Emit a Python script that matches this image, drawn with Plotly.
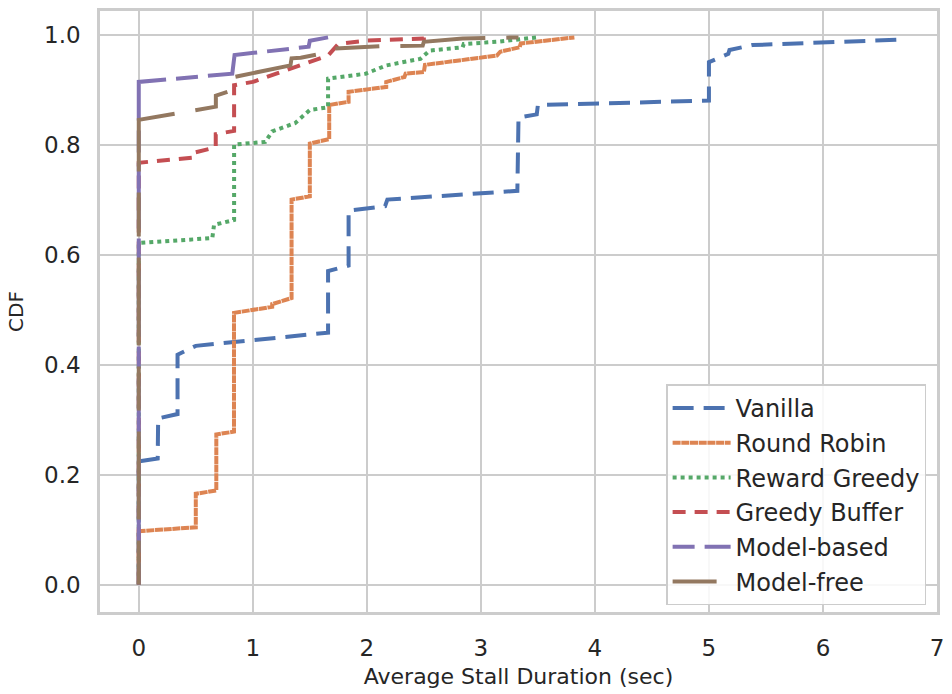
import plotly.graph_objects as go

# ---------------- data ----------------
series_names = ["Vanilla", "Round Robin", "Reward Greedy", "Greedy Buffer", "Model-based", "Model-free"]

vanilla_x = [0, 0, 0.166, 0.17, 0.34, 0.34, 0.50, 1.66, 1.66, 1.84, 1.84, 2.16, 2.18, 3.32, 3.33, 3.49, 3.50, 5.0, 5.0, 5.17, 5.18, 5.38, 6.68]
vanilla_y = [0.0, 0.224, 0.229, 0.302, 0.31, 0.418, 0.434, 0.458, 0.570, 0.580, 0.680, 0.688, 0.700, 0.716, 0.849, 0.855, 0.872, 0.880, 0.950, 0.965, 0.972, 0.981, 0.991]

rr_x = [0, 0, 0.50, 0.50, 0.68, 0.68, 0.835, 0.835, 1.17, 1.17, 1.34, 1.34, 1.50, 1.50, 1.67, 1.67, 1.84, 1.84, 2.17, 2.17, 2.33, 2.34, 2.50, 2.51, 3.14, 3.17, 3.34, 3.35, 3.82]
rr_y = [0.0, 0.097, 0.104, 0.165, 0.171, 0.273, 0.278, 0.494, 0.505, 0.510, 0.521, 0.700, 0.706, 0.802, 0.810, 0.872, 0.878, 0.896, 0.905, 0.914, 0.923, 0.929, 0.932, 0.945, 0.962, 0.969, 0.977, 0.984, 0.995]

rg_x = [0, 0, 0.645, 0.66, 0.836, 0.836, 1.11, 1.17, 1.37, 1.50, 1.66, 1.66, 1.99, 2.17, 2.47, 2.55, 2.84, 2.85, 3.14, 3.49]
rg_y = [0.0, 0.621, 0.630, 0.654, 0.663, 0.800, 0.805, 0.824, 0.839, 0.863, 0.868, 0.920, 0.929, 0.944, 0.956, 0.971, 0.977, 0.983, 0.987, 0.995]

gb_x = [0, 0, 0.50, 0.50, 0.675, 0.675, 0.836, 0.836, 1.0, 1.5, 1.66, 1.75, 1.99, 2.50, 2.50]
gb_y = [0.0, 0.767, 0.777, 0.786, 0.795, 0.819, 0.825, 0.908, 0.914, 0.950, 0.962, 0.983, 0.989, 0.993, 0.999]

mb_x = [0, 0, 0.82, 0.84, 1.49, 1.50, 1.66]
mb_y = [0.0, 0.914, 0.929, 0.963, 0.978, 0.989, 0.995]

mf_x = [0, 0, 0.676, 0.676, 0.835, 0.836, 1.33, 1.34, 1.42, 1.59, 1.66, 1.92, 2.11, 2.49, 2.50, 2.84, 3.03, 3.33]
mf_y = [0.0, 0.845, 0.869, 0.889, 0.900, 0.923, 0.944, 0.957, 0.958, 0.965, 0.974, 0.977, 0.979, 0.980, 0.987, 0.993, 0.994, 0.995]

x_ticks = [0, 1, 2, 3, 4, 5, 6, 7]
y_ticks = [0.0, 0.2, 0.4, 0.6, 0.8, 1.0]
y_tick_labels = ["0.0", "0.2", "0.4", "0.6", "0.8", "1.0"]

# ---------------- styles ----------------
colors = ["#4C72B0", "#DD8452", "#55A868", "#C44E52", "#8172B3", "#937860"]
dashes = ["21px,10px", "8px,0.7px", "4px,4px", "13px,9px", "22px,10px,66px,10px", "44px,21px,88px,21px"]

xs = [vanilla_x, rr_x, rg_x, gb_x, mb_x, mf_x]
ys = [vanilla_y, rr_y, rg_y, gb_y, mb_y, mf_y]

FONT = "DejaVu Sans"
TXT = "#262626"
GRID = "#cccccc"

fig = go.Figure()
for i, name in enumerate(series_names):
    fig.add_trace(go.Scatter(
        x=xs[i], y=ys[i], mode="lines", name=name,
        legendgroup=name,
        line=dict(color=colors[i], width=4, dash=dashes[i]),
    ))

fig.update_layout(
    width=952, height=694,
    margin=dict(l=100, r=9, t=8, b=77),
    paper_bgcolor="white", plot_bgcolor="white",
    font=dict(family=FONT, color=TXT, size=23),
    legend=dict(
        x=0.987, y=0.011, xanchor="right", yanchor="bottom",
        bgcolor="rgba(255,255,255,0.85)", bordercolor=GRID, borderwidth=1.5,
        font=dict(family=FONT, size=24, color=TXT),
        itemwidth=58, tracegroupgap=0.5,
    ),
    xaxis=dict(
        range=[-0.34, 7.0], tickvals=x_ticks, ticktext=[str(v) for v in x_ticks],
        showgrid=True, gridcolor=GRID, gridwidth=2, zeroline=False,
        showline=True, linecolor=GRID, linewidth=2.5, mirror=True,
        ticks="", ticklabelstandoff=14,
        tickfont=dict(family=FONT, size=23, color=TXT),
        title=dict(text="Average Stall Duration (sec)", font=dict(family=FONT, size=22, color=TXT), standoff=9),
    ),
    yaxis=dict(
        range=[-0.05, 1.043], tickvals=y_ticks, ticktext=y_tick_labels,
        showgrid=True, gridcolor=GRID, gridwidth=2, zeroline=False,
        showline=True, linecolor=GRID, linewidth=2.5, mirror=True,
        ticks="", ticklabelstandoff=12,
        tickfont=dict(family=FONT, size=23, color=TXT),
        title=dict(text="CDF", font=dict(family=FONT, size=20, color=TXT), standoff=16),
    ),
)

fig.write_html("out.html")
